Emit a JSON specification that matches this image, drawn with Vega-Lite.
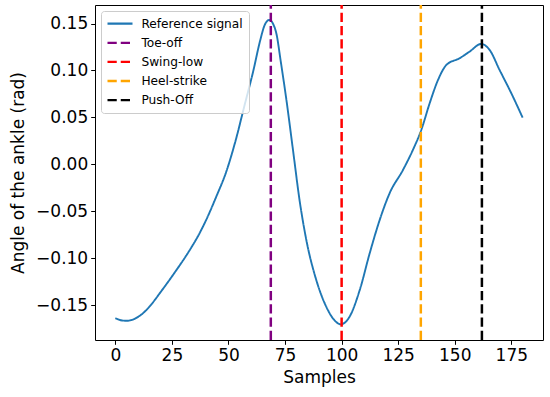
{
  "$schema": "https://vega.github.io/schema/vega-lite/v6.json",
  "width": 448,
  "height": 335,
  "autosize": {"type": "none"},
  "padding": {"left": 95, "top": 5, "right": 7, "bottom": 57},
  "background": "white",
  "config": {
    "font": "DejaVu Sans",
    "view": {"stroke": "black", "strokeWidth": 1},
    "axis": {
      "grid": false, "domain": false,
      "tickColor": "black", "tickSize": 4.3, "tickWidth": 1,
      "labelColor": "black", "labelFontSize": 17, "labelFont": "DejaVu Sans",
      "titleColor": "black", "titleFontSize": 17, "titleFont": "DejaVu Sans", "titleFontWeight": "normal"
    },
    "legend": {
      "orient": "none", "legendX": 6, "legendY": 6,
      "fillColor": "rgba(255,255,255,0.8)", "strokeColor": "#cccccc", "cornerRadius": 3,
      "padding": 6.2, "rowPadding": 6.1,
      "labelFontSize": 12.2, "labelFont": "DejaVu Sans", "labelColor": "black", "labelOffset": 21.2, "labelLimit": 0,
      "symbolType": "M-1.24,0H3.76", "symbolSize": 100, "symbolStrokeWidth": 2.3
    }
  },
  "datasets": {
    "signal": [
      {"sample": 0, "angle": -0.164, "series": "Reference signal"},
      {"sample": 3, "angle": -0.1665, "series": "Reference signal"},
      {"sample": 5, "angle": -0.1668, "series": "Reference signal"},
      {"sample": 8, "angle": -0.1652, "series": "Reference signal"},
      {"sample": 12, "angle": -0.1592, "series": "Reference signal"},
      {"sample": 16, "angle": -0.149, "series": "Reference signal"},
      {"sample": 20, "angle": -0.1362, "series": "Reference signal"},
      {"sample": 24, "angle": -0.123, "series": "Reference signal"},
      {"sample": 27, "angle": -0.1127, "series": "Reference signal"},
      {"sample": 31, "angle": -0.0985, "series": "Reference signal"},
      {"sample": 34, "angle": -0.087, "series": "Reference signal"},
      {"sample": 37, "angle": -0.0745, "series": "Reference signal"},
      {"sample": 40, "angle": -0.06, "series": "Reference signal"},
      {"sample": 44.6, "angle": -0.0345, "series": "Reference signal"},
      {"sample": 49, "angle": -0.008, "series": "Reference signal"},
      {"sample": 53, "angle": 0.024, "series": "Reference signal"},
      {"sample": 57, "angle": 0.062, "series": "Reference signal"},
      {"sample": 61, "angle": 0.1, "series": "Reference signal"},
      {"sample": 64, "angle": 0.132, "series": "Reference signal"},
      {"sample": 66, "angle": 0.1485, "series": "Reference signal"},
      {"sample": 68, "angle": 0.1538, "series": "Reference signal"},
      {"sample": 69.5, "angle": 0.1506, "series": "Reference signal"},
      {"sample": 71.3, "angle": 0.1378, "series": "Reference signal"},
      {"sample": 73, "angle": 0.1112, "series": "Reference signal"},
      {"sample": 75.6, "angle": 0.0686, "series": "Reference signal"},
      {"sample": 78.5, "angle": 0.0153, "series": "Reference signal"},
      {"sample": 81.4, "angle": -0.0381, "series": "Reference signal"},
      {"sample": 84.4, "angle": -0.0807, "series": "Reference signal"},
      {"sample": 88.8, "angle": -0.1234, "series": "Reference signal"},
      {"sample": 93.2, "angle": -0.1518, "series": "Reference signal"},
      {"sample": 96.9, "angle": -0.1664, "series": "Reference signal"},
      {"sample": 99.6, "angle": -0.1706, "series": "Reference signal"},
      {"sample": 103.5, "angle": -0.1625, "series": "Reference signal"},
      {"sample": 108, "angle": -0.1341, "series": "Reference signal"},
      {"sample": 112.4, "angle": -0.0949, "series": "Reference signal"},
      {"sample": 116.8, "angle": -0.0595, "series": "Reference signal"},
      {"sample": 121.2, "angle": -0.0309, "series": "Reference signal"},
      {"sample": 127.1, "angle": -0.0061, "series": "Reference signal"},
      {"sample": 131.5, "angle": 0.0153, "series": "Reference signal"},
      {"sample": 135.2, "angle": 0.0366, "series": "Reference signal"},
      {"sample": 138.9, "angle": 0.065, "series": "Reference signal"},
      {"sample": 142.6, "angle": 0.0899, "series": "Reference signal"},
      {"sample": 146.3, "angle": 0.1059, "series": "Reference signal"},
      {"sample": 152.1, "angle": 0.113, "series": "Reference signal"},
      {"sample": 156.5, "angle": 0.12, "series": "Reference signal"},
      {"sample": 161.7, "angle": 0.1283, "series": "Reference signal"},
      {"sample": 165.4, "angle": 0.1219, "series": "Reference signal"},
      {"sample": 169.8, "angle": 0.1006, "series": "Reference signal"},
      {"sample": 175, "angle": 0.0757, "series": "Reference signal"},
      {"sample": 180, "angle": 0.0497, "series": "Reference signal"}
    ],
    "events": [
      {"sample": 68.7, "series": "Toe-off"},
      {"sample": 100, "series": "Swing-low"},
      {"sample": 135, "series": "Heel-strike"},
      {"sample": 162, "series": "Push-Off"}
    ]
  },
  "layer": [
    {
      "data": {"name": "signal"},
      "mark": {"type": "line", "strokeWidth": 1.9, "interpolate": "monotone"},
      "encoding": {
        "x": {
          "field": "sample", "type": "quantitative",
          "scale": {"domain": [-9, 189], "nice": false, "zero": false},
          "axis": {"values": [0, 25, 50, 75, 100, 125, 150, 175], "title": "Samples", "labelPadding": 3, "titlePadding": 6, "labelFlush": false}
        },
        "y": {
          "field": "angle", "type": "quantitative",
          "scale": {"domain": [-0.1873, 0.1698], "nice": false, "zero": false},
          "axis": {"values": [-0.15, -0.1, -0.05, 0, 0.05, 0.1, 0.15], "format": ".2f", "title": "Angle of the ankle (rad)", "labelPadding": 3, "titlePadding": 8}
        },
        "color": {
          "field": "series", "type": "nominal",
          "scale": {"domain": ["Reference signal", "Toe-off", "Swing-low", "Heel-strike", "Push-Off"], "range": ["#1f77b4", "#800080", "#ff0000", "#ffa500", "#000000"]},
          "legend": {"title": null}
        },
        "strokeDash": {
          "field": "series", "type": "nominal",
          "scale": {"domain": ["Reference signal", "Toe-off", "Swing-low", "Heel-strike", "Push-Off"], "range": [[1, 0], [9.25, 4], [9.25, 4], [9.25, 4], [9.25, 4]]},
          "legend": {"title": null}
        }
      }
    },
    {
      "data": {"name": "events"},
      "mark": {"type": "rule", "strokeWidth": 2.5},
      "encoding": {
        "x": {"field": "sample", "type": "quantitative"},
        "y": {"datum": -0.1873},
        "y2": {"datum": 0.1698},
        "color": {"field": "series", "type": "nominal"},
        "strokeDash": {"field": "series", "type": "nominal"}
      }
    }
  ]
}
